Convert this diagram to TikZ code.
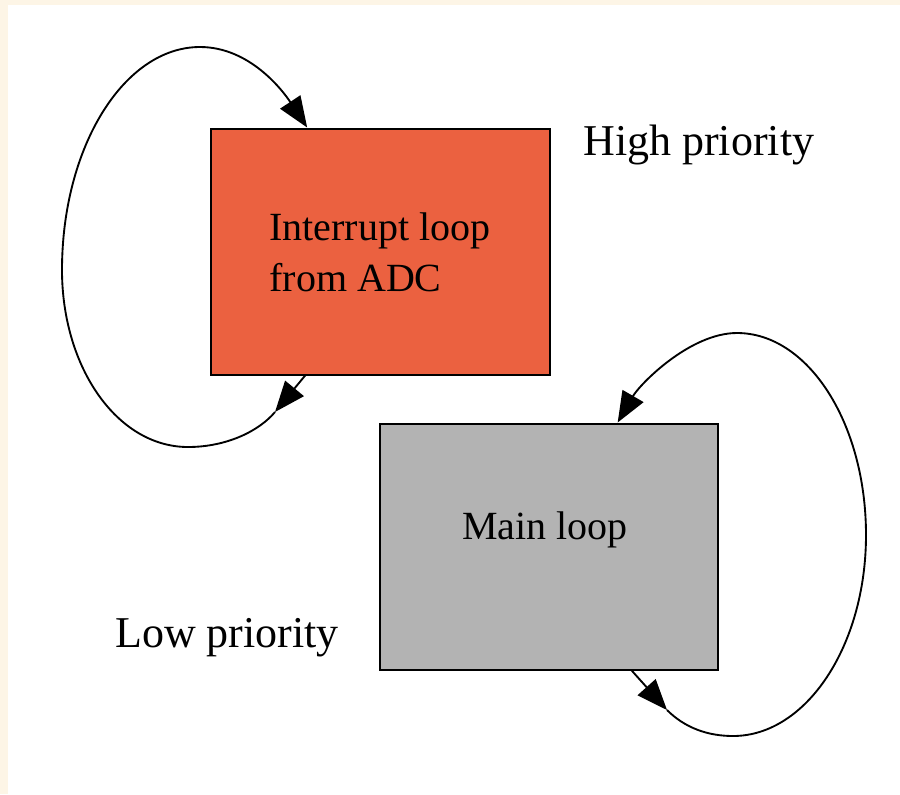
\documentclass[tikz,border=0pt]{standalone}
\usepackage{fontspec}
\setmainfont{Liberation Serif}
\usetikzlibrary{arrows.meta,calc}
\definecolor{cream}{RGB}{253,245,230}
\definecolor{intorange}{RGB}{235,97,64}
\definecolor{boxgray}{RGB}{179,179,179}
\begin{document}
\begin{tikzpicture}[x=0.75pt,y=-0.75pt,
  loopbox/.style={draw=black,line width=1.5pt,minimum width=254pt,minimum height=184.5pt,inner sep=0pt},
  boxtext/.style={font=\fontsize{30}{38.25}\selectfont,align=left,inner sep=0pt},
  prio/.style={font=\fontsize{33}{40}\selectfont,inner sep=0pt,anchor=base west},
  flow/.style={line width=1.4pt,-{Triangle[length=23pt,width=18pt]}}]
\fill[cream] (0,0) rectangle (900,794);
\fill[white] (8,5) rectangle (900,794);
\useasboundingbox (0,0) rectangle (900,794);

\node[loopbox,fill=intorange] (int) at (380.5,251.5) {};
\node[boxtext] (inttext) at (380,252) {Interrupt loop\\from ADC};
\node[loopbox,fill=boxgray] (main) at (549,546.5) {};
\node[boxtext,anchor=base west] (maintext) at (462,539) {Main loop};
\node[prio] (high) at (583,155) {High priority};
\node[prio] (low) at (115,647) {Low priority};

\coordinate (intout) at ($(int.south west)+(95,0)$);
\coordinate (intin) at ($(int.north west)+(97,0)$);
\coordinate (a1) at (275,412);
\draw[flow] (intout) -- (a1);
\draw[flow] (a1) .. controls (260,430) and (228,447) .. (188,447)
  .. controls (117,447) and (62,367) .. (62,270)
  .. controls (62,147) and (124,47) .. (200,47)
  .. controls (250,47) and (283,91) .. (intin);

\coordinate (mainout) at ($(main.south west)+(253,0)$);
\coordinate (mainin) at ($(main.north west)+(239,0)$);
\coordinate (e1) at (667,710);
\draw[flow] (mainout) -- (e1);
\draw[flow] (e1) .. controls (685,728) and (708,736) .. (733,736)
  .. controls (806,736) and (866,646) .. (866,535)
  .. controls (866,423) and (808,333) .. (737,333)
  .. controls (690,333) and (640,384) .. (mainin);
\end{tikzpicture}
\end{document}
